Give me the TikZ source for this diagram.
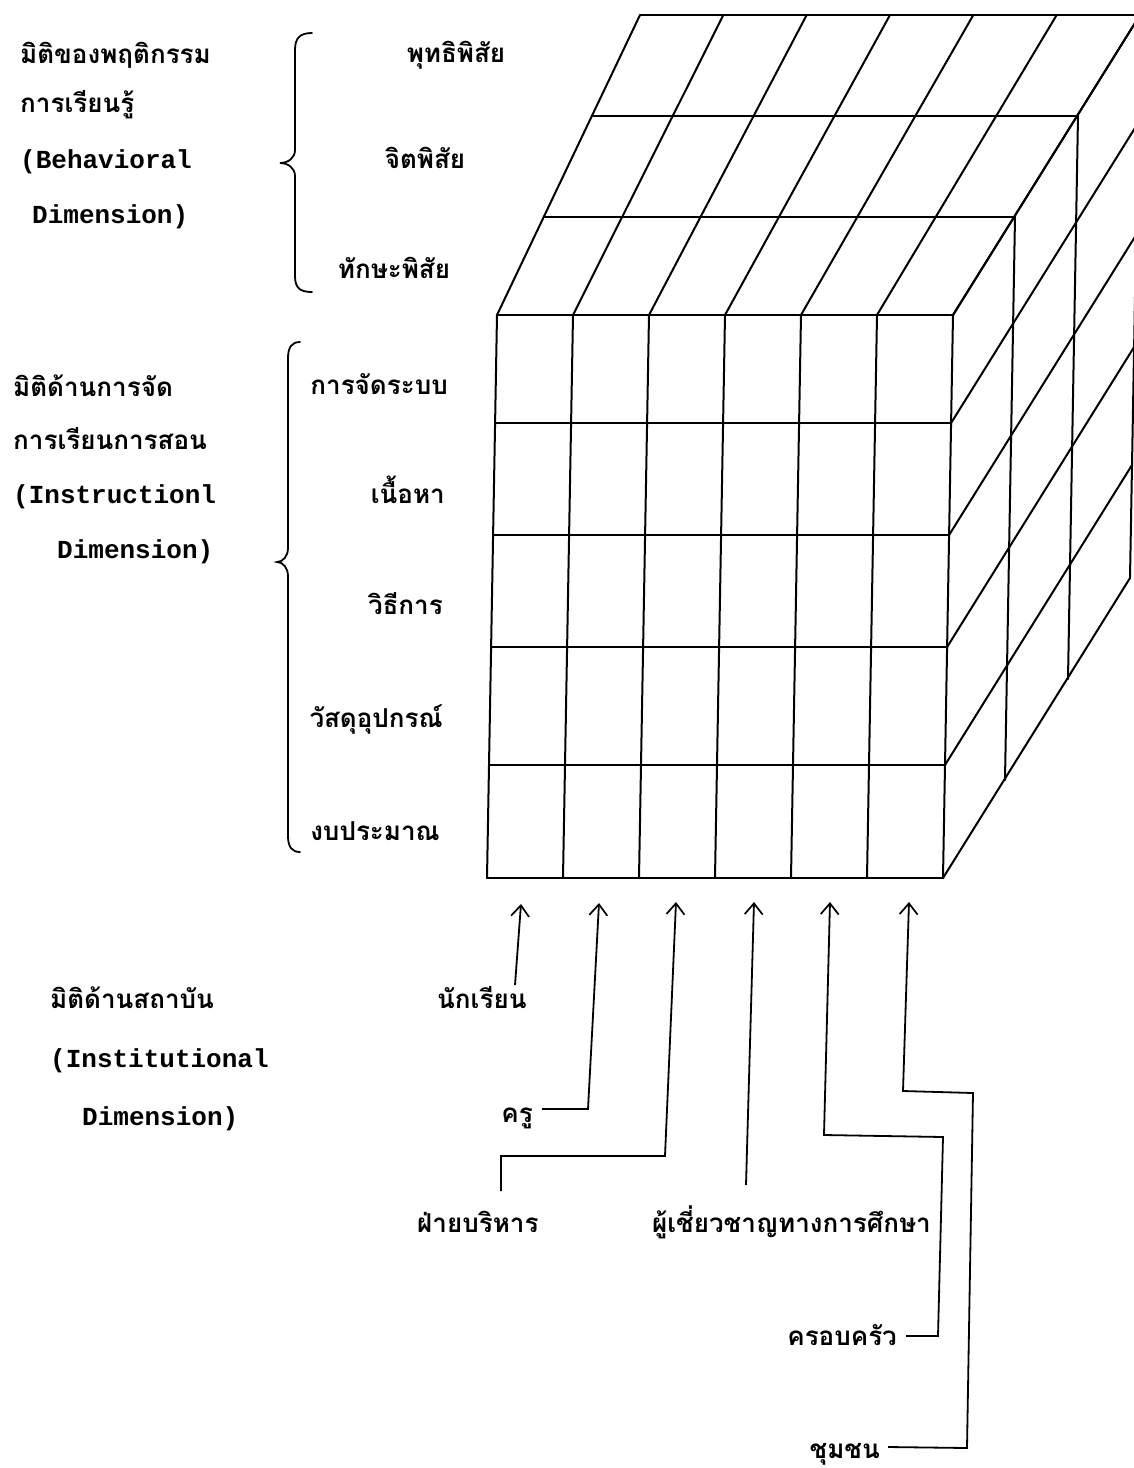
\documentclass[tikz,border=0pt]{standalone}
\usepackage{fontspec}
\newfontfamily\thaifont[Script=Thai]{Loma}
\newfontfamily\engfont{Liberation Mono}
\usetikzlibrary{arrows.meta}
\tikzset{
  th/.style={font=\thaifont\bfseries\fontsize{26}{30}\selectfont, inner sep=0pt, anchor=base west},
  en/.style={font=\engfont\bfseries\fontsize{26}{30}\selectfont, inner sep=0pt, anchor=base west},
  cube/.style={line width=2pt, line cap=round, line join=round},
  conn/.style={line width=1.8pt, line join=miter},
  arr/.style={conn, -{Straight Barb[length=11pt,width=18pt,line width=1.7pt]}},
  bracepath/.style={line width=1.8pt, line cap=round}
}
\begin{document}
\begin{tikzpicture}[x=1pt,y=-1pt]
\useasboundingbox (0,0) rectangle (1134,1468);
\fill[white] (0,0) rectangle (1134,1468);

% ---------------- cube ----------------
\begin{scope}
\clip (0,0) rectangle (1134,1468);
% front face verticals
\foreach \i in {0,...,6}
  \draw[cube] ({497+76*\i},315) -- ({487+76*\i},878);
% front face rows
\foreach \yy in {315,423,535,647,765,878}
  \draw[cube] ({497-10*(\yy-315)/563},\yy) -- ({953-10*(\yy-315)/563},\yy);
% top face layer lines
\draw[cube,line width=2.4pt] (545,217) -- (1015,217);
\draw[cube,line width=2.4pt] (592,116) -- (1078,116);
\draw[cube,line width=2.4pt] (640,15) -- (1140,15);
\draw[cube,line width=2.4pt] (497,315) -- (953,315);
% top face diagonals
\foreach \i in {0,...,6}
  \draw[cube] ({497+76*\i},315) -- ({640+83.333*\i},15);
% right face verticals
\draw[cube] (1015,217) -- (1005,780);
\draw[cube] (1078,116) -- (1068,679);
\draw[cube] (1140,15) -- (1130,578);
% right face diagonals
\foreach \yy in {315,423,535,647,765,878}
  \draw[cube] ({953-10*(\yy-315)/563},\yy) -- ++(187,-300);
\end{scope}

% ---------------- braces ----------------
\draw[bracepath] (312,33) .. controls (300,33) and (295,38) .. (295,50)
  -- (295,150) .. controls (295,158) and (288,163) .. (280,163)
  .. controls (288,163) and (295,168) .. (295,176)
  -- (295,276) .. controls (295,288) and (300,292) .. (312,292);
\draw[bracepath] (300,342) .. controls (292,342) and (288,347) .. (288,358)
  -- (288,548) .. controls (288,556) and (283,562) .. (277,562)
  .. controls (283,562) and (288,568) .. (288,576)
  -- (288,836) .. controls (288,847) and (292,852) .. (300,852);

% ---------------- left texts ----------------
\node[th] (b1a) at (20,63) {มิติของพฤติกรรม};
\node[th] (b1b) at (20,112) {การเรียนรู้};
\node[en] (b1c) at (20,168) {(Behavioral};
\node[en] (b1d) at (32,223) {Dimension)};

\node[th,anchor=base] (l1) at (456,62) {พุทธิพิสัย};
\node[th,anchor=base] (l2) at (425,168) {จิตพิสัย};
\node[th,anchor=base] (l3) at (394,278) {ทักษะพิสัย};

\node[th] (b2a) at (13,396) {มิติด้านการจัด};
\node[th] (b2b) at (13,449) {การเรียนการสอน};
\node[en] (b2c) at (13,503) {(Instructionl};
\node[en] (b2d) at (57,558) {Dimension)};

\node[th,anchor=base east] (m1) at (448,394) {การจัดระบบ};
\node[th,anchor=base east] (m2) at (445,503) {เนื้อหา};
\node[th,anchor=base east] (m3) at (443,614) {วิธีการ};
\node[th,anchor=base east] (m4) at (443,727) {วัสดุอุปกรณ์};
\node[th,anchor=base east] (m5) at (440,840) {งบประมาณ};

\node[th] (b3a) at (50,1008) {มิติด้านสถาบัน};
\node[en] (b3b) at (50,1067) {(Institutional};
\node[en] (b3c) at (82,1125) {Dimension)};

% ---------------- bottom labels ----------------
\node[th] (n1) at (437,1008) {นักเรียน};
\node[th,anchor=base east] (n2) at (533,1122) {ครู};
\node[th] (n3) at (417,1232) {ฝ่ายบริหาร};
\node[th,anchor=base east] (n4) at (931,1232) {ผู้เชี่ยวชาญทางการศึกษา};
\node[th,anchor=base east] (n5) at (897,1345) {ครอบครัว};
\node[th,anchor=base east] (n6) at (880,1458) {ชุมชน};

% arrow tips (under the front face) and connector ends
\coordinate (t1) at (521,904);
\coordinate (t2) at (599,903);
\coordinate (t3) at (676,902);
\coordinate (t4) at (754,902);
\coordinate (t5) at (830,902);
\coordinate (t6) at (909,902);
\coordinate (s1) at (515,985);
\coordinate (s2) at (542,1109);
\coordinate (s3) at (501,1191);
\coordinate (s4) at (746,1185);
\coordinate (s5) at (906,1336);
\coordinate (s6) at (888,1447);

\draw[arr] (s1) -- (t1);
\draw[arr] (s2) -- (588,1109) -- (t2);
\draw[arr] (s3) -- (501,1156) -- (665,1156) -- (t3);
\draw[arr] (s4) -- (t4);
\draw[arr] (s5) -- (938,1336) -- (943,1137) -- (824,1135) -- (t5);
\draw[arr] (s6) -- (967,1448) -- (973,1093) -- (903,1091) -- (t6);
\end{tikzpicture}
\end{document}
